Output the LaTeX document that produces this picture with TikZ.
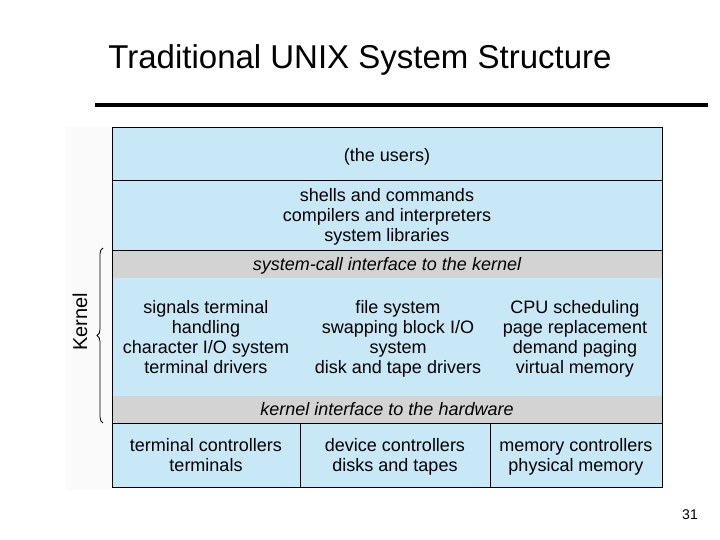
\documentclass[tikz,border=0pt]{standalone}
\usepackage{fontspec}
\setmainfont{Liberation Sans}
\usetikzlibrary{decorations.pathreplacing}
\definecolor{layerblue}{HTML}{C8E8F8}
\definecolor{layergray}{HTML}{D3D3D3}
\begin{document}
\begin{tikzpicture}[x=1pt,y=-1pt,
    txt/.style={align=center,anchor=north,inner sep=0pt,font=\fontsize{18}{20}\selectfont},
    itxt/.style={txt,font=\fontsize{18}{20}\selectfont\itshape}]
  \useasboundingbox (0,0) rectangle (720,540);
  \node(title) at (360,60){\fontsize{33}{36}\selectfont Traditional UNIX System Structure};
  \draw[line width=4pt] (95,105) -- (708,105);
  \fill[black!2] (65,127) rectangle (112,490);
  % layers
  \fill[layerblue] (112,127) rectangle (662,487);
  \fill[layergray] (112,250) rectangle (662,278);
  \fill[layergray] (112,396) rectangle (662,423);
  \draw[thick] (112,127) rectangle (662,487);
  \draw (112,180) -- (662,180);
  \draw (112,250) -- (662,250);
  \draw (112,423) -- (662,423);
  \draw (300,423) -- (300,487);
  \draw (490,423) -- (490,487);
  \node[txt](users) at (387,148){(the users)};
  \node[txt](shells) at (387,188){shells and commands\\compilers and interpreters\\system libraries};
  \node[itxt](syscall) at (387,257){system-call interface to the kernel};
  \node[txt](signals) at (206,300){signals terminal\\handling\\character I/O system\\terminal drivers};
  \node[txt](files) at (398,300){file system\\swapping block I/O\\system\\disk and tape drivers};
  \node[txt](cpu) at (575,300){CPU scheduling\\page replacement\\demand paging\\virtual memory};
  \node[itxt](hwif) at (387,402){kernel interface to the hardware};
  \node[txt](termctl) at (206,438){terminal controllers\\terminals};
  \node[txt](devctl) at (395,438){device controllers\\disks and tapes};
  \node[txt](memctl) at (576,438){memory controllers\\physical memory};
  % kernel brace
  \draw[thick,decorate,decoration={brace,amplitude=6pt}] (103,423) -- (103,248);
  \node[rotate=90,font=\fontsize{20}{22}\selectfont](kernel) at (80,322){Kernel};
  \node(page) at (690,515){\fontsize{14}{16}\selectfont 31};
\end{tikzpicture}
\end{document}
